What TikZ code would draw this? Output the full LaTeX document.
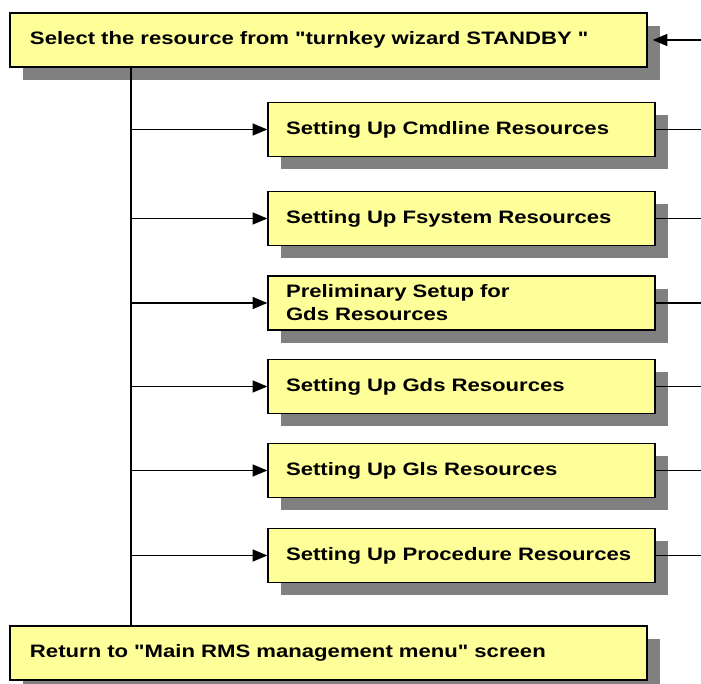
\documentclass[tikz,border=0pt]{standalone}
\usepackage{fontspec}
\newfontfamily\boxfont[FakeStretch=1.23]{Liberation Sans}
\usetikzlibrary{shadows,arrows.meta}
\definecolor{boxyellow}{RGB}{255,255,153}
\definecolor{shadowgray}{RGB}{128,128,128}
\begin{document}
\begin{tikzpicture}[x=0.75pt,y=-0.75pt,
  box/.style={draw=black, line width=1pt, fill=boxyellow, rectangle, anchor=center,
    minimum height=40.5pt, align=left,
    font=\boxfont\bfseries\fontsize{13.5pt}{17.25pt}\selectfont,
    drop shadow={shadow xshift=9.75pt, shadow yshift=-9.75pt, fill=shadowgray, opacity=1}},
  widebox/.style={box, inner xsep=15pt, text width=447.75pt},
  subbox/.style={box, inner xsep=13.5pt, text width=263.25pt},
  conn/.style={draw=black, line width=1pt},
  arr/.style={conn, -{Triangle[length=11pt,width=9pt]}}]
\useasboundingbox (0,0) rectangle (701,684);
\coordinate (spinex) at (131,0);
\coordinate (rx) at (701,0);

\node[widebox] (top) at (328.5,40) {Select the resource from "turnkey wizard STANDBY "};
\node[subbox] (s1) at (461.5,129.5) {Setting Up Cmdline Resources};
\node[subbox] (s2) at (461.5,218.5) {Setting Up Fsystem Resources};
\node[subbox] (s3) at (461.5,303) {Preliminary Setup for\\Gds Resources};
\node[subbox] (s4) at (461.5,386.5) {Setting Up Gds Resources};
\node[subbox] (s5) at (461.5,470.5) {Setting Up Gls Resources};
\node[subbox] (s6) at (461.5,555.5) {Setting Up Procedure Resources};
\node[widebox] (bot) at (328.5,653) {Return to "Main RMS management menu" screen};

\draw[conn] (top.south -| spinex) -- (bot.north -| spinex);
\foreach \s in {s1,s2,s3,s4,s5,s6}{
  \draw[arr] (\s.west -| spinex) -- (\s.west);
  \draw[conn] (\s.east) -- (\s.east -| rx);
}
\draw[arr, shorten >=3.75pt] (top.east -| rx) -- (top.east);
\end{tikzpicture}
\end{document}
